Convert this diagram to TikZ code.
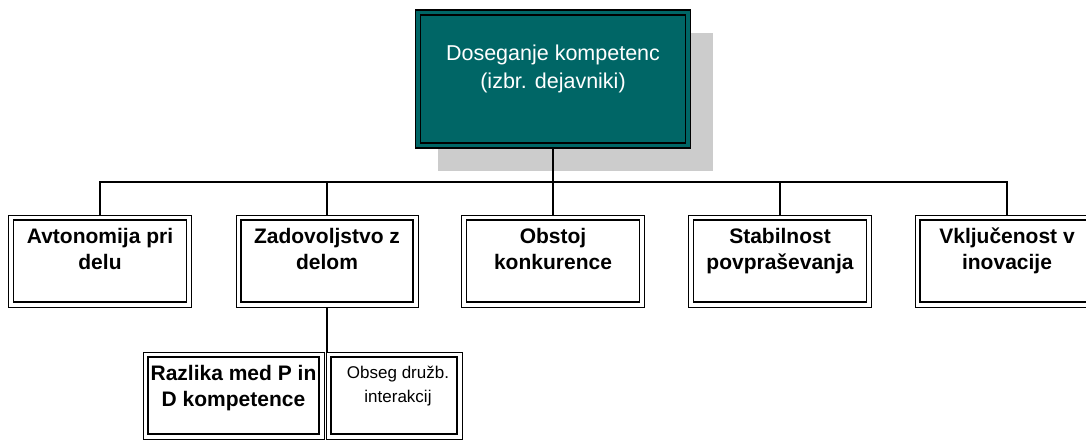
\documentclass[tikz,border=0pt]{standalone}
\usepackage{fontspec}
\setmainfont{Liberation Sans}
\usetikzlibrary{shadows}
\definecolor{tealbox}{RGB}{0,102,102}
\definecolor{shadowgray}{RGB}{204,204,204}
\newcommand{\boxtxt}[4]{\parbox[c][#1][t]{#2}{\centering\vspace{#3}#4}}
\begin{document}
\begin{tikzpicture}[x=1pt,y=-1pt,
  frame/.style={draw=black, line width=1pt, inner sep=0pt, outer sep=0pt, fill=white},
  innerframe/.style={draw=black, line width=1.7pt},
  topbox/.style={frame, fill=tealbox, text=white, line width=1.6pt,
    drop shadow={shadow xshift=22pt, shadow yshift=-23pt, fill=shadowgray, opacity=1}},
  boldtext/.style={font=\fontsize{21}{26}\selectfont\bfseries},
  plaintext/.style={font=\fontsize{21.5}{28}\selectfont},
  smalltext/.style={font=\fontsize{17}{24}\selectfont},
  conn/.style={draw=black, line width=1.6pt}]
\useasboundingbox (0,0) rectangle (1086,439);
\clip (0,0) rectangle (1086,439);
% top
\node[topbox, plaintext] (top) at (553,79) {\boxtxt{138pt}{275pt}{35pt}{Doseganje kompetenc\\(izbr. dejavniki)}};
% row
\node[frame, boldtext] (b1) at (100,261) {\boxtxt{92pt}{183pt}{13pt}{Avtonomija pri\\delu}};
\node[frame, boldtext] (b2) at (327,261) {\boxtxt{92pt}{182pt}{13pt}{Zadovoljstvo z\\delom}};
\node[frame, boldtext] (b3) at (553,261) {\boxtxt{92pt}{183pt}{13pt}{Obstoj\\konkurence}};
\node[frame, boldtext] (b4) at (780,261) {\boxtxt{92pt}{183pt}{13pt}{Stabilnost\\povpraševanja}};
\node[frame, boldtext] (b5) at (1007,261) {\boxtxt{92pt}{184pt}{13pt}{Vključenost v\\inovacije}};
% lower
\node[frame, boldtext] (r1) at (233.5,395.5) {\boxtxt{87pt}{181pt}{13pt}{Razlika med P in\\D kompetence}};
\node[frame, smalltext] (r2) at (394,395.5) {\boxtxt{87pt}{136pt}{14pt}{\hspace*{8pt}Obseg družb.\\\hspace*{8pt}interakcij}};
% inner frames
\foreach \n in {top,b1,b2,b3,b4,b5,r1,r2}
  \draw[innerframe] ([shift={(5pt,-5pt)}]\n.north west) rectangle ([shift={(-5pt,5pt)}]\n.south east);
% connectors
\coordinate (bar) at (553,182);
\draw[conn] (top.south) -- (bar);
\draw[conn] (b1.north) -- (b1.north |- bar) -- (b5.north |- bar) -- (b5.north);
\draw[conn] (b2.north) -- (b2.north |- bar);
\draw[conn] (b3.north) -- (b3.north |- bar);
\draw[conn] (b4.north) -- (b4.north |- bar);
\draw[conn] (b2.south) -- (b2.south |- r2.north);
\end{tikzpicture}
\end{document}
